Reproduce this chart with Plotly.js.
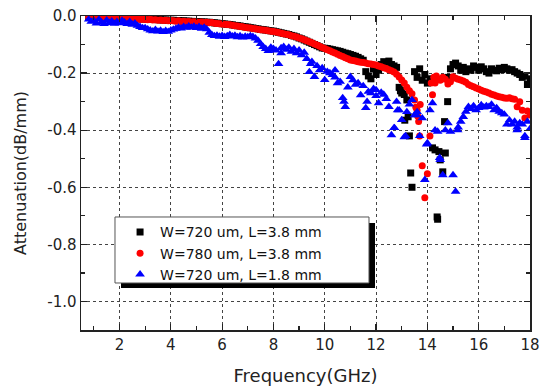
<!DOCTYPE html>
<html>
<head>
<meta charset="utf-8">
<script src="https://cdn.plot.ly/plotly-3.0.1.min.js"></script>
<style>
  html, body { margin: 0; padding: 0; background: #fff; }
  #chart { width: 540px; height: 391px; }
</style>
</head>
<body>
<div id="chart"></div>
<script>
// Frequency sweep (GHz)
const freq = [
  0.8, 0.9,
  1.0, 1.1, 1.2, 1.3, 1.4, 1.5, 1.6, 1.7, 1.8, 1.9,
  2.0, 2.1, 2.2, 2.3, 2.4, 2.5, 2.6, 2.7, 2.8, 2.9,
  3.0, 3.1, 3.2, 3.3, 3.4, 3.5, 3.6, 3.7, 3.8, 3.9,
  4.0, 4.1, 4.2, 4.3, 4.4, 4.5, 4.6, 4.7, 4.8, 4.9,
  5.0, 5.1, 5.2, 5.3, 5.4, 5.5, 5.6, 5.7, 5.8, 5.9,
  6.0, 6.1, 6.2, 6.3, 6.4, 6.5, 6.6, 6.7, 6.8, 6.9,
  7.0, 7.1, 7.2, 7.3, 7.4, 7.5, 7.6, 7.7, 7.8, 7.9,
  8.0, 8.1, 8.2, 8.3, 8.4, 8.5, 8.6, 8.7, 8.8, 8.9,
  9.0, 9.1, 9.2, 9.3, 9.4, 9.5, 9.6, 9.7, 9.8, 9.9,
  10.0, 10.1, 10.2, 10.3, 10.4, 10.5, 10.6, 10.7, 10.8, 10.9,
  11.0, 11.1, 11.2, 11.3, 11.4, 11.5, 11.6, 11.7, 11.8, 11.9,
  12.0, 12.1, 12.2, 12.3, 12.4, 12.5, 12.6, 12.7, 12.8, 12.9,
  13.0, 13.1, 13.2, 13.3, 13.4, 13.5, 13.6, 13.7, 13.8, 13.9,
  14.0, 14.1, 14.2, 14.3, 14.4, 14.5, 14.6, 14.7, 14.8, 14.9,
  15.0, 15.1, 15.2, 15.3, 15.4, 15.5, 15.6, 15.7, 15.8, 15.9,
  16.0, 16.1, 16.2, 16.3, 16.4, 16.5, 16.6, 16.7, 16.8, 16.9,
  17.0, 17.1, 17.2, 17.3, 17.4, 17.5, 17.6, 17.7, 17.8, 17.9,
  18.0
];

// W=720 um, L=3.8 mm (black squares)
const attW720L38 = [
  -0.002, -0.003,
  -0.002, -0.003, -0.002, -0.004, -0.003, -0.002, -0.003, -0.004, -0.003, -0.002,
  -0.006, -0.007, -0.007, -0.008, -0.008, -0.008, -0.009, -0.009, -0.010, -0.010,
  -0.010, -0.011, -0.011, -0.012, -0.012, -0.013, -0.013, -0.014, -0.014, -0.015,
  -0.015, -0.015, -0.016, -0.016, -0.017, -0.017, -0.018, -0.018, -0.019, -0.019,
  -0.020, -0.020, -0.021, -0.021, -0.022, -0.022, -0.023, -0.024, -0.025, -0.026,
  -0.027, -0.028, -0.029, -0.030, -0.031, -0.033, -0.034, -0.035, -0.037, -0.038,
  -0.039, -0.041, -0.042, -0.044, -0.045, -0.047, -0.048, -0.049, -0.051, -0.052,
  -0.053, -0.055, -0.057, -0.059, -0.061, -0.063, -0.065, -0.068, -0.070, -0.073,
  -0.077, -0.080, -0.084, -0.088, -0.092, -0.096, -0.100, -0.104, -0.108, -0.112,
  -0.113, -0.114, -0.116, -0.118, -0.120, -0.122, -0.124, -0.127, -0.130, -0.132,
  -0.135, -0.138, -0.141, -0.145, -0.150, -0.155, -0.195, -0.210, -0.220, -0.185,
  -0.205, -0.190, -0.170, -0.160, -0.165, -0.158, -0.170, -0.175, -0.180, -0.250,
  -0.260, -0.275, -0.294, -0.420, -0.600, -0.195, -0.215, -0.185, -0.225, -0.205,
  -0.235, -0.220, -0.462, -0.469, -0.712, -0.504, -0.546, -0.480, -0.215, -0.185,
  -0.170, -0.165, -0.175, -0.190, -0.180, -0.195, -0.185, -0.190, -0.175, -0.180,
  -0.190, -0.178, -0.185, -0.195, -0.200, -0.185, -0.190, -0.192, -0.183, -0.188,
  -0.180, -0.185, -0.190, -0.188, -0.195, -0.200, -0.205, -0.215, -0.210, -0.240,
  -0.220
];
const extraFreqW720L38 = [12.95, 13.0, 13.12, 13.25, 13.35, 14.38, 14.45, 14.67, 14.79];
const extraAttW720L38  = [-0.262, -0.270, -0.365, -0.353, -0.550, -0.704, -0.475, -0.370, -0.300];

// W=780 um, L=3.8 mm (red circles)
const attW780L38 = [
  -0.004, -0.005,
  -0.005, -0.004, -0.006, -0.005, -0.006, -0.005, -0.007, -0.006, -0.007, -0.008,
  -0.007, -0.008, -0.009, -0.008, -0.010, -0.009, -0.011, -0.010, -0.012, -0.011,
  -0.012, -0.013, -0.012, -0.014, -0.013, -0.015, -0.014, -0.016, -0.015, -0.017,
  -0.016, -0.017, -0.018, -0.017, -0.019, -0.018, -0.020, -0.019, -0.021, -0.020,
  -0.021, -0.022, -0.021, -0.023, -0.022, -0.024, -0.023, -0.025, -0.026, -0.027,
  -0.028, -0.029, -0.030, -0.031, -0.032, -0.034, -0.035, -0.037, -0.038, -0.040,
  -0.041, -0.042, -0.044, -0.045, -0.046, -0.048, -0.049, -0.050, -0.052, -0.053,
  -0.054, -0.056, -0.058, -0.060, -0.062, -0.064, -0.066, -0.069, -0.071, -0.074,
  -0.077, -0.080, -0.083, -0.087, -0.090, -0.094, -0.098, -0.102, -0.106, -0.110,
  -0.114, -0.118, -0.122, -0.126, -0.130, -0.134, -0.138, -0.142, -0.146, -0.150,
  -0.154, -0.156, -0.158, -0.160, -0.162, -0.163, -0.165, -0.167, -0.168, -0.170,
  -0.172, -0.175, -0.178, -0.181, -0.184, -0.188, -0.192, -0.196, -0.204, -0.214,
  -0.224, -0.235, -0.250, -0.262, -0.272, -0.294, -0.330, -0.420, -0.525, -0.637,
  -0.553, -0.420, -0.276, -0.235, -0.220, -0.225, -0.215, -0.222, -0.238, -0.230,
  -0.213, -0.218, -0.222, -0.224, -0.228, -0.232, -0.240, -0.244, -0.248, -0.252,
  -0.256, -0.260, -0.264, -0.266, -0.270, -0.274, -0.277, -0.280, -0.283, -0.285,
  -0.287, -0.288, -0.286, -0.290, -0.292, -0.318, -0.300, -0.330, -0.357, -0.333,
  -0.347
];
const extraFreqW780L38 = [13.55, 13.62, 13.66, 13.72, 14.15, 14.25, 14.35];
const extraAttW780L38  = [-0.320, -0.350, -0.370, -0.310, -0.235, -0.215, -0.210];

// W=720 um, L=1.8 mm (blue triangles)
const attW720L18 = [
  -0.012, -0.020,
  -0.016, -0.026, -0.012, -0.022, -0.028, -0.015, -0.024, -0.018, -0.027, -0.020,
  -0.025, -0.016, -0.022, -0.028, -0.020, -0.030, -0.025, -0.034, -0.038, -0.042,
  -0.042, -0.046, -0.050, -0.053, -0.048, -0.054, -0.051, -0.056, -0.052, -0.055,
  -0.050, -0.047, -0.044, -0.040, -0.043, -0.038, -0.041, -0.036, -0.040, -0.037,
  -0.042, -0.038, -0.044, -0.040, -0.046, -0.058, -0.066, -0.070, -0.068, -0.072,
  -0.069, -0.073, -0.070, -0.066, -0.071, -0.068, -0.074, -0.070, -0.075, -0.072,
  -0.074, -0.070, -0.073, -0.078, -0.086, -0.098, -0.108, -0.115, -0.122, -0.110,
  -0.115, -0.120, -0.168, -0.112, -0.108, -0.118, -0.110, -0.125, -0.115, -0.130,
  -0.120, -0.137, -0.128, -0.150, -0.196, -0.160, -0.213, -0.175, -0.190, -0.182,
  -0.224, -0.195, -0.200, -0.206, -0.215, -0.235, -0.230, -0.287, -0.318, -0.250,
  -0.213, -0.225, -0.240, -0.235, -0.277, -0.245, -0.322, -0.265, -0.270, -0.255,
  -0.259, -0.305, -0.268, -0.275, -0.290, -0.318, -0.417, -0.392, -0.300, -0.330,
  -0.364, -0.424, -0.336, -0.310, -0.294, -0.347, -0.336, -0.420, -0.358, -0.574,
  -0.445, -0.330, -0.305, -0.400, -0.405, -0.504, -0.557, -0.400, -0.375, -0.405,
  -0.557, -0.615, -0.390, -0.370, -0.353, -0.335, -0.318, -0.325, -0.315, -0.330,
  -0.322, -0.312, -0.320, -0.315, -0.318, -0.310, -0.330, -0.322, -0.335, -0.340,
  -0.345, -0.380, -0.365, -0.380, -0.370, -0.390, -0.375, -0.380, -0.427, -0.370,
  -0.395
];
const extraFreqW720L18 = [8.3, 9.45, 10.4, 10.75, 11.65, 12.0, 12.72, 12.84, 13.15, 13.58, 13.97, 14.48, 15.18, 17.5, 17.8];
const extraAttW720L18  = [-0.130, -0.168, -0.190, -0.300, -0.300, -0.280, -0.392, -0.330, -0.420, -0.347, -0.450, -0.497, -0.400, -0.400, -0.420];

// Series names and tick labels
const seriesNames = ['W=720 um, L=3.8 mm', 'W=780 um, L=3.8 mm', 'W=720 um, L=1.8 mm'];
const xTickVals = [2, 4, 6, 8, 10, 12, 14, 16, 18];
const xTickText = ['2', '4', '6', '8', '10', '12', '14', '16', '18'];
const yTickVals = [0, -0.2, -0.4, -0.6, -0.8, -1.0];
const yTickText = ['0.0', '-0.2', '-0.4', '-0.6', '-0.8', '-1.0'];

const traces = [
  {
    x: freq.concat(extraFreqW720L38), y: attW720L38.concat(extraAttW720L38),
    name: seriesNames[0], type: 'scatter', mode: 'markers',
    marker: { symbol: 'square', size: 7, color: '#000000' }
  },
  {
    x: freq.concat(extraFreqW780L38), y: attW780L38.concat(extraAttW780L38),
    name: seriesNames[1], type: 'scatter', mode: 'markers',
    marker: { symbol: 'circle', size: 7, color: '#ff0000' }
  },
  {
    x: freq.concat(extraFreqW720L18), y: attW720L18.concat(extraAttW720L18),
    name: seriesNames[2], type: 'scatter', mode: 'markers',
    marker: { symbol: 'triangle-up', size: 8.5, color: '#0000ff' }
  }
];

const axisCommon = {
  showline: true, linecolor: '#222', linewidth: 1.5, mirror: 'allticks',
  ticks: 'inside', ticklen: 6, tickwidth: 1.2, tickcolor: '#222',
  showgrid: true, gridcolor: '#444', gridwidth: 1, griddash: 'dot',
  zeroline: false, tickfont: { size: 15, color: '#222' },
  tickmode: 'array'
};

const layout = {
  width: 540, height: 391,
  margin: { l: 81, r: 10, t: 16, b: 61, pad: 0 },
  paper_bgcolor: '#ffffff', plot_bgcolor: '#ffffff',
  font: { family: 'DejaVu Sans', size: 15, color: '#222' },
  showlegend: true,
  legend: {
    x: 0.087, y: 0.362, xanchor: 'left', yanchor: 'top',
    bgcolor: 'rgba(0,0,0,0)', borderwidth: 0,
    font: { family: 'DejaVu Sans', size: 14, color: '#111' },
    tracegroupgap: 0
  },
  xaxis: Object.assign({}, axisCommon, {
    range: [0.5, 18],
    tickvals: xTickVals, ticktext: xTickText,
    minor: { tick0: 1, dtick: 1, ticks: 'inside', ticklen: 4, tickwidth: 1.2, tickcolor: '#222', showgrid: false },
    title: { text: 'Frequency(GHz)', font: { size: 18, color: '#222' }, standoff: 17 }
  }),
  yaxis: Object.assign({}, axisCommon, {
    range: [-1.1, 0],
    tickvals: yTickVals, ticktext: yTickText,
    minor: { tick0: 0.1, dtick: 0.1, ticks: 'inside', ticklen: 4, tickwidth: 1.2, tickcolor: '#222', showgrid: false },
    title: { text: 'Attenuation(dB/mm)', font: { size: 16, color: '#222' }, standoff: 16 }
  }),
  shapes: [
    { type: 'rect', xref: 'paper', yref: 'paper', layer: 'above',
      x0: 0.0891, x1: 0.6548, y0: 0.1338, y1: 0.3408,
      fillcolor: '#000', line: { width: 0 } },
    { type: 'rect', xref: 'paper', yref: 'paper', layer: 'above',
      x0: 0.0757, x1: 0.6414, y0: 0.1497, y1: 0.3599,
      fillcolor: '#fff', line: { color: '#555', width: 1 } }
  ]
};

Plotly.newPlot('chart', traces, layout, { displayModeBar: false, staticPlot: true });
</script>
</body>
</html>
